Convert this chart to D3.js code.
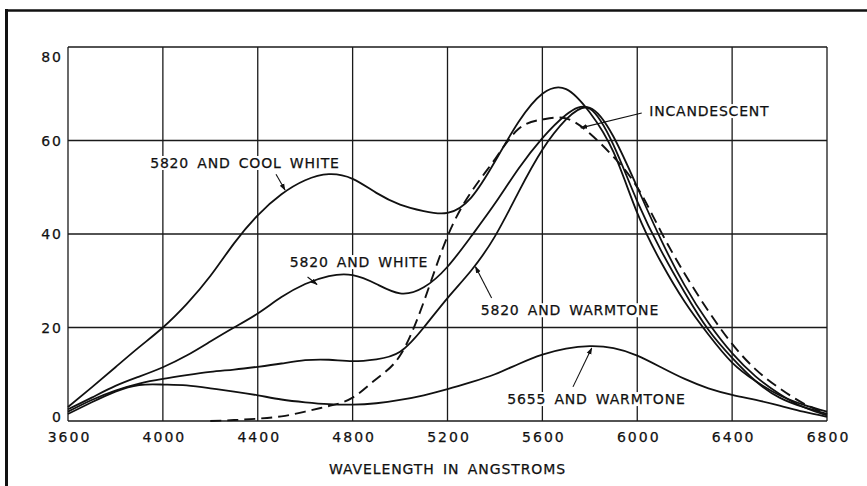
<!DOCTYPE html>
<html>
<head>
<meta charset="utf-8">
<script src="https://cdn.jsdelivr.net/npm/d3@7/dist/d3.min.js"></script>
<style>
  html, body { margin: 0; padding: 0; background: #fff; }
  #chart svg { display: block; }
  .lbl { font-family: 'DejaVu Sans', sans-serif; fill: #111; stroke: #111; stroke-width: 0.25px; }
</style>
</head>
<body>
<div id="chart"></div>
<script>
(function(){
  'use strict';

  //----- wavelength grid (angstroms)
  var wavelengths = [3600, 3700, 3800, 3900, 4000, 4100, 4200, 4300, 4400, 4500, 4600,
                     4700, 4800, 4900, 5000, 5100, 5200, 5300, 5400, 5500, 5600, 5700,
                     5800, 5900, 6000, 6100, 6200, 6300, 6400, 6500, 6600, 6700, 6800];

  //----- relative response of each combination
  var coolWhite = [3, 7.2, 11.5, 15.8, 20, 25, 31, 38, 44, 48.5, 51.5,
                   52.8, 51.8, 48.8, 46.3, 44.9, 44.5, 47.8, 55.5, 64, 70, 71,
                   66, 57.5, 44.5, 34, 25.5, 18.5, 12.5, 8.5, 5.5, 3.5, 2];
  var white = [2.5, 5, 7.5, 9.5, 11.5, 14, 17, 20, 23, 26.5, 29.3,
               31, 31.2, 29.3, 27.3, 28.6, 33, 39.5, 46.5, 54, 60.5, 65.5,
               66.8, 59, 47, 36.5, 27.5, 19.5, 13.5, 8.5, 5, 3, 1.5];
  var warmtone5820 = [2, 4.5, 6.5, 8, 9, 9.8, 10.5, 11, 11.6, 12.3, 13,
                      13.1, 12.8, 13.2, 14.8, 20, 26.3, 32.2, 39.5, 49, 58, 64.5,
                      67, 60.8, 50, 38.8, 29, 21, 14.5, 9.5, 5.8, 3, 1.2];
  var warmtone5655 = [1.5, 4, 6.3, 7.7, 7.8, 7.6, 7, 6.3, 5.5, 4.6, 4,
                      3.6, 3.5, 3.8, 4.5, 5.5, 6.8, 8.3, 10, 12.2, 14.2, 15.5,
                      16, 15.6, 14, 11.5, 9, 7, 5.6, 4.5, 3.3, 2, 0.9];
  var incandescent = [null, null, null, null, null, null, 0, 0.2, 0.5, 1, 2,
                      3.2, 5, 9, 14, 25.5, 39.5, 49, 56, 62.5, 64.5, 64.7,
                      61.5, 56.5, 50, 40.5, 31.5, 23.5, 16.5, 11, 7, 3.8, 1.5];

  var xTicks = [3600, 4000, 4400, 4800, 5200, 5600, 6000, 6400, 6800];
  var yTicks = [0, 20, 40, 60, 80];

  //----- curve names with arrows, in data units [wavelength, value]
  var notes = [
    {text: '5820 AND COOL WHITE', at: [4346, 55.2], from: [4477, 52.8], to: [4515, 49.4]},
    {text: '5820 AND WHITE',      at: [4827, 34.0], from: [4610, 30.8], to: [4650, 29.2]},
    {text: '5820 AND WARMTONE',   at: [5716, 23.7], from: [5386, 26.3], to: [5318, 33.0]},
    {text: '5655 AND WARMTONE',   at: [5828, 4.7],  from: [5729, 7.3],  to: [5808, 15.6]},
    {text: 'INCANDESCENT',        at: [6304, 66.3], from: [6019, 65.9], to: [5762, 62.7]}
  ];

  buildChart();

  function buildChart() {
    var width = 867, height = 486;
    var plot = {left: 68, right: 827, top: 47, bottom: 421};

    var svg = d3.select('#chart').append('svg')
      .attr('width', width)
      .attr('height', height);

    svg.append('rect').attr('width', width).attr('height', height).attr('fill', '#fff');

    svg.append('defs').append('marker')
      .attr('id', 'arrow')
      .attr('viewBox', '0 0 10 10')
      .attr('refX', 9).attr('refY', 5)
      .attr('markerWidth', 7).attr('markerHeight', 7)
      .attr('markerUnits', 'userSpaceOnUse')
      .attr('orient', 'auto')
      .append('path')
      .attr('d', 'M0,1.5 L10,5 L0,8.5 Z')
      .attr('fill', '#111');

    //----- page frame (thick rules of the scanned figure)
    svg.append('line')
      .attr('x1', 5).attr('x2', width).attr('y1', 10.5).attr('y2', 10.5)
      .attr('stroke', '#111').attr('stroke-width', 2.6);
    svg.append('line')
      .attr('x1', 6.5).attr('x2', 6.5).attr('y1', 9).attr('y2', height)
      .attr('stroke', '#111').attr('stroke-width', 3);

    var x = d3.scaleLinear().domain([3600, 6800]).range([plot.left, plot.right]);
    var y = d3.scaleLinear().domain([0, 80]).range([plot.bottom, plot.top]);

    //----- grid
    var grid = svg.append('g').attr('class', 'grid')
      .attr('stroke', '#1a1a1a').attr('stroke-width', 1.3);
    grid.selectAll('line.v').data(xTicks).enter()
      .append('line').attr('class', 'v')
      .attr('x1', function(d){ return x(d); })
      .attr('x2', function(d){ return x(d); })
      .attr('y1', y(80)).attr('y2', y(0));
    grid.selectAll('line.h').data(yTicks).enter()
      .append('line').attr('class', 'h')
      .attr('x1', x(3600)).attr('x2', x(6800))
      .attr('y1', function(d){ return y(d); })
      .attr('y2', function(d){ return y(d); });

    //----- axes (labels only, grid does the lines)
    var xAxis = svg.append('g')
      .attr('transform', 'translate(0,' + plot.bottom + ')')
      .call(d3.axisBottom(x).tickValues(xTicks).tickSize(0).tickPadding(11).tickFormat(d3.format('d')));
    var yAxis = svg.append('g')
      .attr('transform', 'translate(' + plot.left + ',0)')
      .call(d3.axisLeft(y).tickValues(yTicks).tickSize(0).tickPadding(5));

    [xAxis, yAxis].forEach(function(ax) {
      ax.select('.domain').remove();
      ax.selectAll('text')
        .attr('class', 'lbl')
        .attr('font-size', 14)
        .attr('fill', '#111')
        .style('letter-spacing', '2px');
    });
    xAxis.selectAll('text').attr('dx', '1px');
    //-- end labels of the value axis sit inside the frame
    yAxis.selectAll('text')
      .attr('dy', function(d) { return d === 80 ? '1.0em' : (d === 0 ? '0.0em' : '0.35em'); });

    svg.append('text')
      .attr('class', 'lbl')
      .attr('x', (x(3600) + x(6800)) / 2)
      .attr('y', 474)
      .attr('text-anchor', 'middle')
      .attr('font-size', 14)
      .style('letter-spacing', '0.9px')
      .style('word-spacing', '3px')
      .text('WAVELENGTH IN ANGSTROMS');

    //----- curves
    var series = [
      {values: coolWhite,    dashed: false},
      {values: white,        dashed: false},
      {values: warmtone5820, dashed: false},
      {values: warmtone5655, dashed: false},
      {values: incandescent, dashed: true}
    ];

    var line = d3.line()
      .defined(function(d) { return d[1] !== null; })
      .x(function(d) { return x(d[0]); })
      .y(function(d) { return y(d[1]); })
      .curve(d3.curveNatural);

    svg.append('g').attr('class', 'curves')
      .selectAll('path').data(series).enter()
      .append('path')
      .attr('fill', 'none')
      .attr('stroke', '#111')
      .attr('stroke-width', function(d) { return d.dashed ? 1.9 : 1.8; })
      .attr('stroke-dasharray', function(d) { return d.dashed ? '11,6' : null; })
      .attr('d', function(d) {
        return line(wavelengths.map(function(w, i) { return [w, d.values[i]]; }));
      });

    //----- curve names
    var noteG = svg.append('g').attr('class', 'notes');
    notes.forEach(function(n) {
      var g = noteG.append('g');
      var bg = g.append('rect').attr('fill', '#fff');
      var t = g.append('text')
        .attr('class', 'lbl')
        .attr('x', x(n.at[0]))
        .attr('y', y(n.at[1]))
        .attr('dy', '0.36em')
        .attr('text-anchor', 'middle')
        .attr('font-size', 14)
        .style('letter-spacing', '0.8px')
        .style('word-spacing', '3px')
        .text(n.text);
      var bb = t.node().getBBox();
      bg.attr('x', bb.x - 3).attr('y', bb.y + 1)
        .attr('width', bb.width + 6).attr('height', bb.height - 2);

      noteG.append('line')
        .attr('x1', x(n.from[0])).attr('y1', y(n.from[1]))
        .attr('x2', x(n.to[0])).attr('y2', y(n.to[1]))
        .attr('stroke', '#111').attr('stroke-width', 1.1)
        .attr('marker-end', 'url(#arrow)');
    });
  }
})();
</script>
</body>
</html>
